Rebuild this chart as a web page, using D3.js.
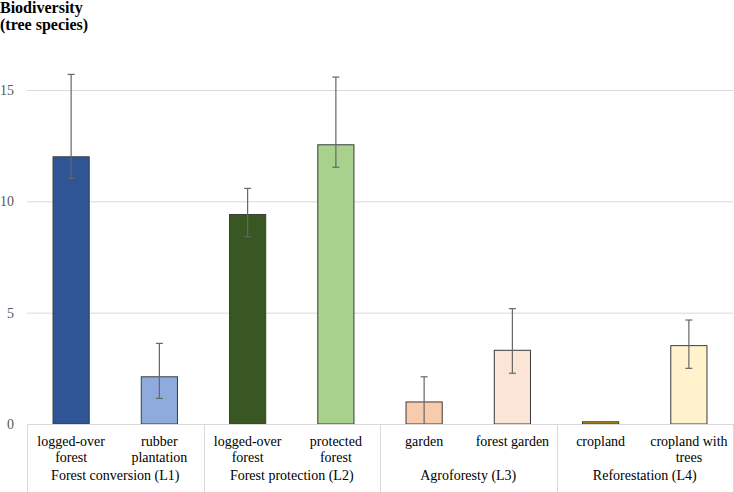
<!DOCTYPE html>
<html>
<head>
<meta charset="utf-8">
<script src="https://cdn.jsdelivr.net/npm/d3@7"></script>
<style>
html,body{margin:0;padding:0;background:#fff;}
svg{display:block;}
</style>
</head>
<body>
<svg id="chart" width="734" height="492"></svg>
<script>
const categories = [
  ["logged-over", "forest"],
  ["rubber", "plantation"],
  ["logged-over", "forest"],
  ["protected", "forest"],
  ["garden"],
  ["forest garden"],
  ["cropland"],
  ["cropland with", "trees"]
];
const groups = ["Forest conversion (L1)", "Forest protection (L2)", "Agroforesty (L3)", "Reforestation (L4)"];
const values = [12.0, 2.12, 9.41, 12.54, 0.99, 3.31, 0.10, 3.52];
const upper  = [15.7, 3.62, 10.58, 15.58, 2.12, 5.18, null, 4.67];
const lower  = [11.03, 1.15, 8.41, 11.53, 0, 2.28, null, 2.5];
const colors = ["#2F5597", "#8FAADC", "#385723", "#A9D18E", "#F8CBAD", "#FBE5D6", "#BF9000", "#FFF2CC"];
const yTicks = [0, 5, 10, 15];

(function () {
const FONT = '"Liberation Serif"';
const svg = d3.select("#chart");
const plotLeft = 27, plotRight = 733, plotTop = 90, base = 424;
const x = d3.scaleBand().domain(d3.range(values.length)).range([plotLeft, plotRight]).padding(0);
const y = d3.scaleLinear().domain([0, 15]).range([base, plotTop]);
const gx = d3.scaleBand().domain(d3.range(groups.length)).range([plotLeft, plotRight]).padding(0);

// gridlines
svg.append("g").selectAll("line").data(yTicks.filter(d => d > 0)).join("line")
  .attr("x1", plotLeft).attr("x2", plotRight)
  .attr("y1", d => y(d) + 0.5).attr("y2", d => y(d) + 0.5)
  .attr("stroke", "#d9d9d9").attr("stroke-width", 1);

// y tick labels
svg.append("g").selectAll("text").data(yTicks).join("text")
  .attr("x", 14).attr("y", d => y(d)).attr("dy", "0.35em")
  .attr("text-anchor", "end").attr("font-size", 14).attr("fill", "#595959")
  .style("font-family", FONT)
  .text(d => d);

// bars
const bw = x.bandwidth() * 0.41;
svg.append("g").selectAll("rect").data(values).join("rect")
  .attr("x", (d, i) => x(i) + (x.bandwidth() - bw) / 2)
  .attr("y", d => y(d))
  .attr("width", bw)
  .attr("height", d => base - y(d))
  .attr("fill", (d, i) => colors[i])
  .attr("stroke", "#3b3b3b").attr("stroke-width", 1);

// error bars
const eb = svg.append("g").attr("stroke", "#666").attr("stroke-width", 1.2);
values.forEach((v, i) => {
  if (upper[i] == null) return;
  const cx = x(i) + x.bandwidth() / 2;
  eb.append("line").attr("x1", cx).attr("x2", cx).attr("y1", y(upper[i])).attr("y2", y(lower[i]));
  eb.append("line").attr("x1", cx - 3.5).attr("x2", cx + 3.5).attr("y1", y(upper[i])).attr("y2", y(upper[i]));
  if (lower[i] > 0)
    eb.append("line").attr("x1", cx - 3.5).attr("x2", cx + 3.5).attr("y1", y(lower[i])).attr("y2", y(lower[i]));
});

// axis table lines
const tl = svg.append("g").attr("stroke", "#d9d9d9").attr("stroke-width", 1);
tl.append("line").attr("x1", plotLeft).attr("x2", plotRight).attr("y1", base + 0.5).attr("y2", base + 0.5);
d3.range(groups.length + 1).forEach(g => {
  const gxv = g < groups.length ? gx(g) : plotRight;
  tl.append("line").attr("x1", Math.round(gxv) + 0.5).attr("x2", Math.round(gxv) + 0.5)
    .attr("y1", base).attr("y2", 492);
});

// category labels
const cl = svg.append("g");
categories.forEach((lines, i) => {
  const cx = x(i) + x.bandwidth() / 2;
  lines.forEach((t, j) => {
    cl.append("text").attr("x", cx).attr("y", 446 + j * 16)
      .attr("text-anchor", "middle").attr("font-size", 14).attr("fill", "#000")
      .style("font-family", FONT).text(t);
  });
});

// group labels
svg.append("g").selectAll("text").data(groups).join("text")
  .attr("x", (d, i) => gx(i) + gx.bandwidth() / 2)
  .attr("y", 480).attr("text-anchor", "middle").attr("font-size", 14).attr("fill", "#000")
  .style("font-family", FONT)
  .text(d => d);

// title
const title = svg.append("text").attr("x", 0).attr("font-size", 16).attr("font-weight", "bold")
  .attr("fill", "#000").style("font-family", FONT);
title.append("tspan").attr("x", 0).attr("y", 13).text("Biodiversity");
title.append("tspan").attr("x", 0).attr("y", 30).text("(tree species)");
})();
</script>
</body>
</html>
